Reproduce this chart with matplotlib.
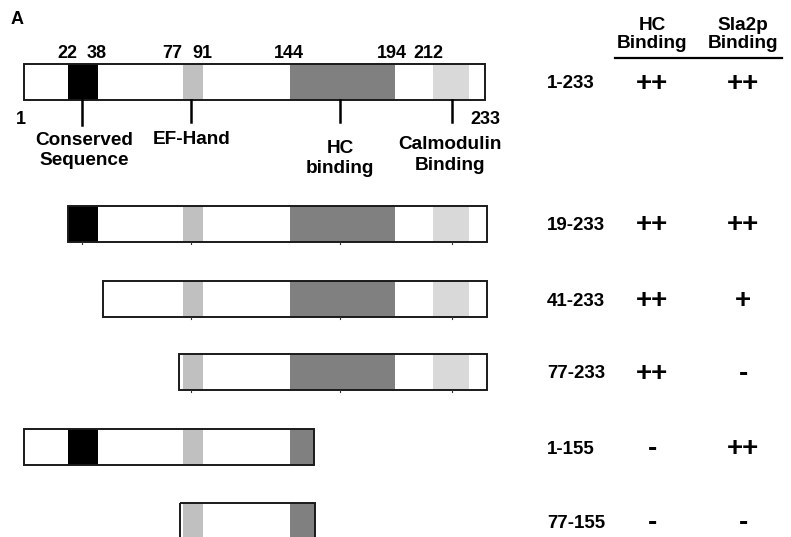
import matplotlib.pyplot as plt
from matplotlib.patches import Rectangle

plt.rcParams['font.family'] = ['Liberation Sans', 'DejaVu Sans']
plt.rcParams['font.weight'] = 'bold'

# constructs (drawn start / end, in residue units of the schematic)
construct_names = ['1-233', '19-233', '41-233', '77-233', '1-155', '77-155']
construct_start = [1, 23, 41, 79, 1, 79.5]
construct_end = [233, 234, 234, 234, 147, 147.5]
row_y = [82, 223.5, 299, 372, 447, 521]

# domains as drawn
domain_names = ['Conserved\nSequence', 'EF-Hand', 'HC\nbinding', 'Calmodulin\nBinding']
domain_start = [23, 81, 135, 207]
domain_end = [38, 91, 187.5, 225]
domain_colors = ['#000000', '#c0c0c0', '#808080', '#d9d9d9']
domain_tick = [30.2, 85.0, 160.0, 216.4]
domain_label_x = [31.2, 85.5, 160.0, 215.4]
domain_label_y = [148.5, 137, 156.5, 153]

# boundary numbers above the full-length bar
boundary_text = ['22', '38', '77', '91', '144', '194', '212']
boundary_x = [23, 37.7, 75.5, 90.6, 134.4, 186.2, 204.3]

# binding results
hc_binding = ['++', '++', '++', '++', '-', '-']
sla2p_binding = ['++', '++', '+', '-', '++', '-']

fig = plt.figure(figsize=(7.91, 5.37), dpi=100)
ax = fig.add_axes([0, 0, 1, 1])
ax.set_xlim(-11.08, 387.0)
ax.set_ylim(537, 0)
ax.axis('off')

bar_h = 36
dy = 2  # text centring correction

for i in range(len(construct_names)):
    s, e, yc = construct_start[i], construct_end[i], row_y[i]
    for ds, de, c in zip(domain_start, domain_end, domain_colors):
        a, b = max(ds, s), min(de, e)
        if b > a:
            ax.add_patch(Rectangle((a, yc - bar_h / 2), b - a, bar_h,
                                   facecolor=c, edgecolor='none', zorder=1))
    ax.add_patch(Rectangle((s, yc - bar_h / 2), e - s, bar_h, facecolor='none',
                           edgecolor='#1a1a1a', lw=1.4, zorder=2))
    # small marks under bars
    if 1 <= i <= 3:
        for t in domain_tick:
            if s < t < e:
                ax.plot([t, t], [yc + bar_h / 2, yc + bar_h / 2 + 2], color='#333333', lw=0.8)

    ax.text(264.2, yc + dy, construct_names[i], fontsize=13.5, ha='left', va='center')
    ax.text(317.1, yc + dy, hc_binding[i], fontsize=20, ha='center', va='center')
    ax.text(362.9, yc + dy, sla2p_binding[i], fontsize=20, ha='center', va='center')

# annotations on the full-length protein
bot = row_y[0] + bar_h / 2
for t, x in zip(boundary_text, boundary_x):
    ax.text(x, 52 + dy, t, fontsize=13, ha='center', va='center')
ax.text(-0.5, 117 + dy, '1', fontsize=13, ha='center', va='center')
ax.text(233, 117 + dy, '233', fontsize=13, ha='center', va='center')

for k in range(len(domain_names)):
    tick_len = 25 if k == 0 else 22
    ax.plot([domain_tick[k]] * 2, [bot, bot + tick_len], color='black', lw=1.8)
    ax.text(domain_label_x[k], domain_label_y[k] + dy, domain_names[k], fontsize=13.7,
            ha='center', va='center', linespacing=1.3)

# column headers
ax.text(317.1, 32.5 + dy, 'HC\nBinding', fontsize=13.7, ha='center', va='center', linespacing=1.15)
ax.text(362.9, 32.5 + dy, 'Sla2p\nBinding', fontsize=13.7, ha='center', va='center', linespacing=1.15)
ax.plot([298.4, 382.5], [58, 58], color='black', lw=1.6)

ax.text(-2.5, 18 + dy, 'A', fontsize=13, ha='center', va='center')

fig.savefig('out.png', dpi=100)
